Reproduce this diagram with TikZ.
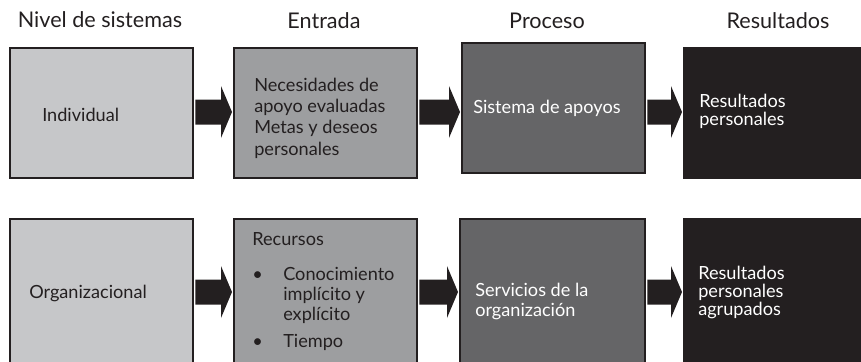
\documentclass[tikz,border=0pt]{standalone}
\usepackage{fontspec}
\setmainfont{Lato}
\usetikzlibrary{calc}

\definecolor{grisclaro}{HTML}{C6C7C9}
\definecolor{grismedio}{HTML}{9D9EA0}
\definecolor{grisoscuro}{HTML}{656567}
\definecolor{negro}{HTML}{231F20}

\tikzset{
  caja/.style={draw=negro, line width=1.7pt, inner sep=0pt, anchor=north west},
  tam/.style 2 args={minimum width=#1*0.75pt, minimum height=#2*0.75pt},
  texto/.style={font=\fontsize{13.6}{15.8}\selectfont, align=left, inner sep=0pt, anchor=base west, text=negro},
  blanco/.style={texto, text=white},
  titulo/.style={font=\fontsize{16.2}{18}\selectfont, inner sep=0pt, anchor=base, text=negro},
  flecha/.style={fill=negro},
}

% block arrow from box #1 to box #2 on the row of coordinate #3
\newcommand{\bloque}[3]{%
  \fill[flecha] ($(#1.east |- #3)+(1,-12.5)$) -- ($(#2.west |- #3)+(-12,-12.5)$)
    -- ($(#2.west |- #3)+(-12,-26)$) -- ($(#2.west |- #3)+(-1,0)$)
    -- ($(#2.west |- #3)+(-12,26)$) -- ($(#2.west |- #3)+(-12,12.5)$)
    -- ($(#1.east |- #3)+(1,12.5)$) -- cycle;
}

\begin{document}
\begin{tikzpicture}[x=0.75pt, y=-0.75pt]
    \clip (0,0) rectangle (861,361);

    % Column titles
    \node[titulo] (tnivel) at (100,27) {Nivel de sistemas};
    \node[titulo] (tent) at (324,28) {Entrada};
    \node[titulo] (tpro) at (547,28) {Proceso};
    \node[titulo] (tres) at (778,28) {Resultados};

    % Row of the individual level (multi-line texts sit on their last line)
    \node[caja, tam={183}{130}, fill=grisclaro] (ind) at (9,47) {};
    \node[caja, tam={183}{130}, fill=grismedio] (ent) at (233,47) {};
    \node[caja, tam={183}{130}, fill=grisoscuro] (pro) at (461,42) {};
    \node[caja, tam={220}{130}, fill=negro] (res) at (683,47) {};

    \node[texto] (indT) at (42,121) {Individual};
    \node[texto, font=\fontsize{13.6}{16}\selectfont] (entT) at (254,155) {Necesidades de\\apoyo evaluadas\\Metas y deseos\\personales};
    \node[blanco] (proT) at (473,113) {Sistema de apoyos};
    \node[blanco, font=\fontsize{13.6}{13.5}\selectfont] (resT) at (699,125) {Resultados\\personales};

    % Row of the organizational level
    \node[caja, tam={183}{150}, fill=grisclaro] (org) at (9,218) {};
    \node[caja, tam={183}{150}, fill=grismedio] (rec) at (233,218) {};
    \node[caja, tam={185}{150}, fill=grisoscuro] (ser) at (459,218) {};
    \node[caja, tam={220}{150}, fill=negro] (agr) at (683,218) {};

    \node[texto] (orgT) at (29,298) {Organizacional};
    \node[texto] (recT) at (252,245) {Recursos};
    \node[texto] (bul1) at (252,280) {•};
    \node[texto, font=\fontsize{13.6}{15}\selectfont] (recA) at (283,320) {Conocimiento\\implícito y\\explícito};
    \node[texto] (bul2) at (252,347) {•};
    \node[texto] (recB) at (283,347) {Tiempo};
    \node[blanco, font=\fontsize{13.6}{14.3}\selectfont] (serT) at (475,316) {Servicios de la\\organización};
    \node[blanco, font=\fontsize{13.6}{13.3}\selectfont] (agrT) at (698,315) {Resultados\\personales\\agrupados};

    % Arrows between the boxes
    \coordinate (fila1) at (0,112);
    \coordinate (fila2) at (0,292);
    \bloque{ind}{ent}{fila1}
    \bloque{ent}{pro}{fila1}
    \bloque{pro}{res}{fila1}
    \bloque{org}{rec}{fila2}
    \bloque{rec}{ser}{fila2}
    \bloque{ser}{agr}{fila2}
\end{tikzpicture}
\end{document}
